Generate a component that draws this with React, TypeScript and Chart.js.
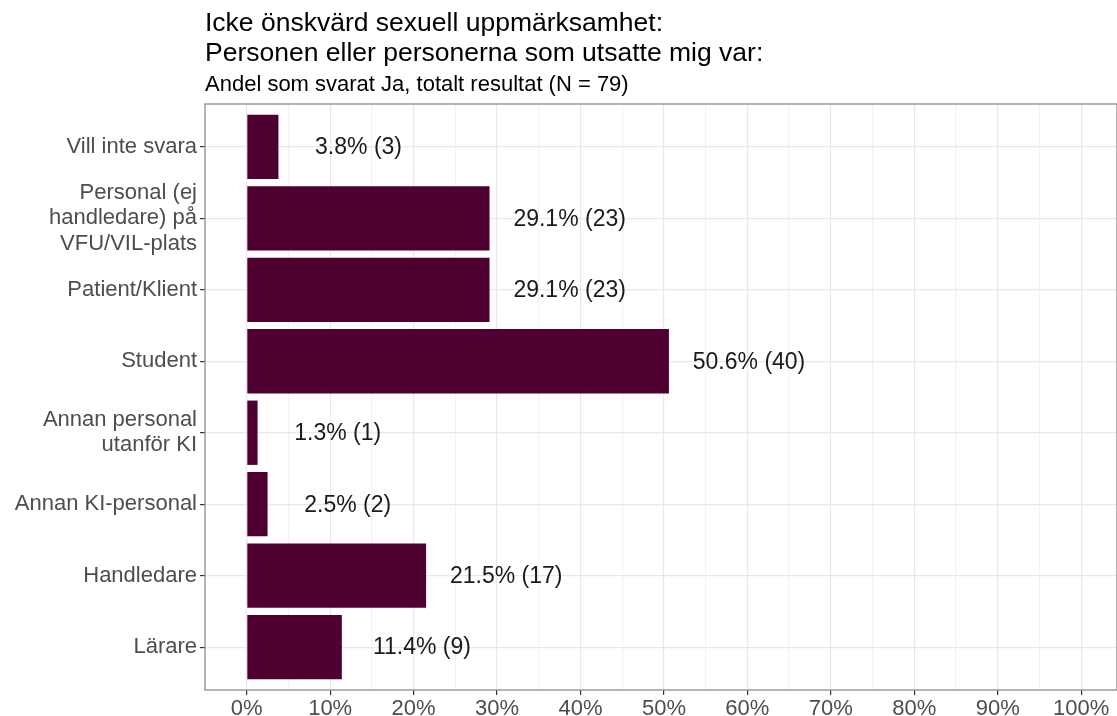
import React, { useEffect, useRef } from "react";
import { Chart, registerables } from "chart.js";

Chart.register(...registerables);

const categories: string[][] = [
  ["Vill inte svara"],
  ["Personal (ej", "handledare) på", "VFU/VIL-plats"],
  ["Patient/Klient"],
  ["Student"],
  ["Annan personal", "utanför KI"],
  ["Annan KI-personal"],
  ["Handledare"],
  ["Lärare"],
];
const percentages: number[] = [3.8, 29.1, 29.1, 50.6, 1.3, 2.5, 21.5, 11.4];
const counts: number[] = [3, 23, 23, 40, 1, 2, 17, 9];
const xTicks: number[] = [0, 5, 10, 15, 20, 25, 30, 35, 40, 45, 50, 55, 60, 65, 70, 75, 80, 85, 90, 95, 100];

const titleLines = ["Icke önskvärd sexuell uppmärksamhet:", "Personen eller personerna som utsatte mig var:"];
const subtitle = "Andel som svarat Ja, totalt resultat (N = 79)";

const FONT = "'Liberation Sans', Arial, Helvetica, sans-serif";
const BAR_COLOR = "#4f0031";
const AXIS_TEXT = "#4d4d4d";

const LABEL_OFFSET = 9.6;

export default function App() {
  const ref = useRef<HTMLCanvasElement | null>(null);

  useEffect(() => {
    if (!ref.current) return;

    const titlePlugin = {
      id: "titles",
      afterDraw(chart: any) {
        const ctx = chart.ctx;
        const left = chart.chartArea.left;
        ctx.save();
        ctx.fillStyle = "#000000";
        ctx.textAlign = "left";
        ctx.textBaseline = "alphabetic";
        ctx.font = `26.5px ${FONT}`;
        ctx.fillText(titleLines[0], left, 31);
        ctx.fillText(titleLines[1], left, 61);
        ctx.font = `22px ${FONT}`;
        ctx.fillText(subtitle, left, 91);
        ctx.restore();
      },
    };

    const borderPlugin = {
      id: "panelBorder",
      afterDraw(chart: any) {
        const { left, top, right, bottom } = chart.chartArea;
        const ctx = chart.ctx;
        ctx.save();
        ctx.strokeStyle = "#8c8c8c";
        ctx.lineWidth = 1.3;
        ctx.strokeRect(left, top, right - left, bottom - top);
        ctx.restore();
      },
    };

    const barLabelPlugin = {
      id: "barLabels",
      afterDatasetsDraw(chart: any) {
        const ctx = chart.ctx;
        const xs = chart.scales.x;
        const ys = chart.scales.y;
        ctx.save();
        ctx.fillStyle = "#1a1a1a";
        ctx.font = `23px ${FONT}`;
        ctx.textAlign = "center";
        ctx.textBaseline = "middle";
        percentages.forEach((v, i) => {
          const x = xs.getPixelForValue(v + LABEL_OFFSET);
          const y = ys.getPixelForValue(i + 1);
          ctx.fillText(`${v.toFixed(1)}% (${counts[i]})`, x, y + 1);
        });
        ctx.restore();
      },
    };

    const chart = new Chart(ref.current, {
      type: "bar",
      data: {
        datasets: [
          {
            data: percentages.map((v, i) => ({ x: v, y: i + 1 })),
            backgroundColor: BAR_COLOR,
            borderWidth: 0,
            barPercentage: 0.9,
            categoryPercentage: 1.0,
          } as any,
        ],
      },
      options: {
        indexAxis: "y",
        animation: false,
        responsive: true,
        maintainAspectRatio: false,
        layout: { padding: { top: 104, left: 0, right: 0, bottom: 0 } },
        plugins: {
          legend: { display: false },
          tooltip: { enabled: false },
          title: { display: false },
        },
        scales: {
          x: {
            type: "linear",
            min: -5,
            max: 104.3,
            offset: false,
            afterBuildTicks(scale: any) {
              scale.ticks = xTicks.map((v) => ({ value: v }));
            },
            afterFit(scale: any) {
              scale.height = 26;
            },
            ticks: {
              autoSkip: false,
              maxRotation: 0,
              padding: 1,
              color: AXIS_TEXT,
              font: { family: FONT, size: 22 },
              callback: (v: any) => (Number(v) % 10 === 0 ? `${v}%` : ""),
            },
            grid: {
              offset: false,
              color: (c: any) => (c.tick && c.tick.value % 10 === 0 ? "#e8e8e8" : "#f2f2f2"),
              lineWidth: 1.2,
              tickLength: 5,
              tickColor: (c: any) => (c.tick && c.tick.value % 10 === 0 ? "#333333" : "rgba(0,0,0,0)"),
              drawTicks: true,
            },
            border: { display: false },
          },
          y: {
            type: "linear",
            min: 0.4,
            max: 8.6,
            reverse: true,
            offset: false,
            afterBuildTicks(scale: any) {
              scale.ticks = categories.map((_, i) => ({ value: i + 1 }));
            },
            afterFit(scale: any) {
              scale.width = 205;
            },
            ticks: {
              autoSkip: false,
              padding: 3,
              color: AXIS_TEXT,
              font: { family: FONT, size: 22, lineHeight: 1.15 },
              callback: (v: any) => {
                const idx = Math.round(Number(v)) - 1;
                const c = categories[idx];
                return c ? (c.length === 1 ? c[0] : c) : "";
              },
            },
            grid: {
              offset: false,
              color: "#e8e8e8",
              lineWidth: 1.2,
              tickLength: 5,
              tickColor: "#333333",
              drawTicks: true,
            },
            border: { display: false },
          },
        },
      } as any,
      plugins: [titlePlugin, borderPlugin, barLabelPlugin],
    });

    return () => chart.destroy();
  }, []);

  return (
    <div style={{ position: "absolute", left: 0, top: 0, width: 1117, height: 716, background: "#ffffff" }}>
      <canvas ref={ref} />
    </div>
  );
}
